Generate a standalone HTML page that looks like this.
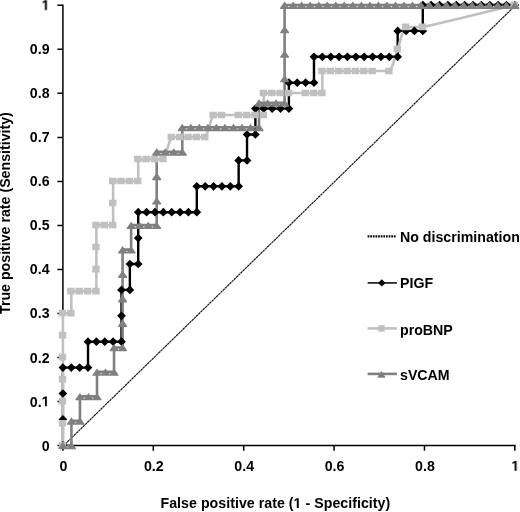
<!DOCTYPE html><html><head><meta charset="utf-8"><title>ROC</title><style>
html,body{margin:0;padding:0;background:#fff;}
body{width:520px;height:512px;position:relative;overflow:hidden;font-family:"Liberation Sans",sans-serif;font-weight:bold;font-size:14.2px;color:#000;}
.t{will-change:transform;position:absolute;white-space:nowrap;line-height:1;}
.yl{text-align:right;width:40px;}
.xl{text-align:center;width:40px;}
.one{width:0.5562em;height:0.6880em;vertical-align:baseline;display:inline-block;overflow:visible}
</style></head><body>
<svg width="520" height="512" viewBox="0 0 520 512" style="position:absolute;left:0;top:0">
<path d="M62.9 4.55V445.6M62.15 445.6H515.6" stroke="#000" stroke-width="1.5" fill="none"/>
<path d="M57.4 445.60H62.9M57.4 401.57H62.9M57.4 357.54H62.9M57.4 313.51H62.9M57.4 269.48H62.9M57.4 225.45H62.9M57.4 181.42H62.9M57.4 137.39H62.9M57.4 93.36H62.9M57.4 49.33H62.9M57.4 5.30H62.9M62.90 445.6V450.8M153.29 445.6V450.8M243.68 445.6V450.8M334.07 445.6V450.8M424.46 445.6V450.8M514.85 445.6V450.8" stroke="#000" stroke-width="1.5" fill="none"/>
<line x1="62.9" y1="446.3" x2="514.85" y2="6.0" stroke="#111" stroke-width="1.15" stroke-dasharray="2.6 0.5"/>
<polyline points="62.90,445.30 62.90,419.40 62.90,393.50 62.90,367.60 71.27,367.60 79.64,367.60 88.01,367.60 88.01,341.70 96.38,341.70 104.75,341.70 113.12,341.70 121.49,341.70 121.49,315.80 121.49,289.90 129.86,289.90 129.86,264.00 138.22,264.00 138.22,238.10 138.22,212.20 146.59,212.20 154.96,212.20 163.33,212.20 171.70,212.20 180.07,212.20 188.44,212.20 196.81,212.20 196.81,186.30 205.18,186.30 213.55,186.30 221.92,186.30 230.29,186.30 238.66,186.30 238.66,160.40 247.03,160.40 247.03,134.50 255.40,134.50 255.40,108.60 263.77,108.60 272.14,108.60 280.51,108.60 288.88,108.60 288.88,82.70 297.24,82.70 305.61,82.70 313.98,82.70 313.98,56.80 322.35,56.80 330.72,56.80 339.09,56.80 347.46,56.80 355.83,56.80 364.20,56.80 372.57,56.80 380.94,56.80 389.31,56.80 397.68,56.80 397.68,30.90 406.05,30.90 414.42,30.90 422.79,30.90 422.79,5.00 431.16,5.00 439.53,5.00 447.89,5.00 456.26,5.00 464.63,5.00 473.00,5.00 481.37,5.00 489.74,5.00 498.11,5.00 506.48,5.00 514.85,5.00" fill="none" stroke="#000" stroke-width="2.4" stroke-linejoin="miter"/>
<path d="M62.90 445.30L62.90 423.29L62.90 401.27L62.90 379.25L62.90 357.24L62.90 335.23L62.90 313.21L71.27 313.21L71.27 291.20L79.64 291.20L88.01 291.20L96.38 291.20L96.38 269.18L96.38 247.16L96.38 225.15L104.75 225.15L113.12 225.15L113.12 203.13L113.12 181.12L121.49 181.12L129.86 181.12L138.22 181.12L138.22 159.11L146.59 159.11L154.96 159.11L163.33 159.11C166.12 155.44 168.91 140.76 171.70 137.09L180.07 137.09L188.44 137.09L196.81 137.09L205.18 137.09C207.97 133.42 210.76 118.74 213.55 115.07L221.92 115.07L238.66 115.07L247.03 115.07L255.40 115.07L263.77 115.07L263.77 93.06L272.14 93.06L280.51 93.06L288.88 93.06L305.61 93.06L313.98 93.06L322.35 93.06L322.35 71.05L330.72 71.05L339.09 71.05L347.46 71.05L355.83 71.05L364.20 71.05L372.57 71.05L389.31 71.05C393.49 67.38 394.89 56.37 397.68 49.03C400.47 41.69 401.86 30.68 406.05 27.02L422.79 27.02C440.92 23.35 499.51 8.67 514.85 5.00" fill="none" stroke="#c0c0c0" stroke-width="2.6" stroke-linejoin="round"/>
<polyline points="62.90,445.30 71.43,445.30 71.43,420.84 79.95,420.84 79.95,396.38 88.48,396.38 97.01,396.38 97.01,371.92 105.54,371.92 114.06,371.92 114.06,347.46 122.59,347.46 122.59,322.99 122.59,298.53 122.59,274.07 122.59,249.61 131.12,249.61 131.12,225.15 139.65,225.15 148.17,225.15 156.70,225.15 156.70,200.69 156.70,176.23 156.70,151.77 165.23,151.77 173.76,151.77 182.28,151.77 182.28,127.31 190.81,127.31 199.34,127.31 207.87,127.31 216.39,127.31 224.92,127.31 233.45,127.31 241.97,127.31 250.50,127.31 259.03,127.31 259.03,102.84 267.56,102.84 276.08,102.84 284.61,102.84 284.61,78.38 284.61,53.92 284.61,29.46 284.61,5.00 293.14,5.00 301.67,5.00 310.19,5.00 318.72,5.00 327.25,5.00 335.78,5.00 344.30,5.00 352.83,5.00 361.36,5.00 369.88,5.00 378.41,5.00 386.94,5.00 395.47,5.00 403.99,5.00 412.52,5.00 421.05,5.00 429.58,5.00 438.10,5.00 446.63,5.00 455.16,5.00 463.69,5.00 472.21,5.00 480.74,5.00 489.27,5.00 497.80,5.00 506.32,5.00 514.85,5.00" fill="none" stroke="#808080" stroke-width="2.6" stroke-linejoin="miter"/>
<path d="M62.90 440.95L67.25 445.30L62.90 449.65L58.55 445.30ZM62.90 415.05L67.25 419.40L62.90 423.75L58.55 419.40ZM62.90 389.15L67.25 393.50L62.90 397.85L58.55 393.50ZM62.90 363.25L67.25 367.60L62.90 371.95L58.55 367.60ZM71.27 363.25L75.62 367.60L71.27 371.95L66.92 367.60ZM79.64 363.25L83.99 367.60L79.64 371.95L75.29 367.60ZM88.01 363.25L92.36 367.60L88.01 371.95L83.66 367.60ZM88.01 337.35L92.36 341.70L88.01 346.05L83.66 341.70ZM96.38 337.35L100.73 341.70L96.38 346.05L92.03 341.70ZM104.75 337.35L109.10 341.70L104.75 346.05L100.40 341.70ZM113.12 337.35L117.47 341.70L113.12 346.05L108.77 341.70ZM121.49 337.35L125.84 341.70L121.49 346.05L117.14 341.70ZM121.49 311.45L125.84 315.80L121.49 320.15L117.14 315.80ZM121.49 285.55L125.84 289.90L121.49 294.25L117.14 289.90ZM129.86 285.55L134.21 289.90L129.86 294.25L125.51 289.90ZM129.86 259.65L134.21 264.00L129.86 268.35L125.51 264.00ZM138.22 259.65L142.57 264.00L138.22 268.35L133.88 264.00ZM138.22 233.75L142.57 238.10L138.22 242.45L133.88 238.10ZM138.22 207.85L142.57 212.20L138.22 216.55L133.88 212.20ZM146.59 207.85L150.94 212.20L146.59 216.55L142.24 212.20ZM154.96 207.85L159.31 212.20L154.96 216.55L150.61 212.20ZM163.33 207.85L167.68 212.20L163.33 216.55L158.98 212.20ZM171.70 207.85L176.05 212.20L171.70 216.55L167.35 212.20ZM180.07 207.85L184.42 212.20L180.07 216.55L175.72 212.20ZM188.44 207.85L192.79 212.20L188.44 216.55L184.09 212.20ZM196.81 207.85L201.16 212.20L196.81 216.55L192.46 212.20ZM196.81 181.95L201.16 186.30L196.81 190.65L192.46 186.30ZM205.18 181.95L209.53 186.30L205.18 190.65L200.83 186.30ZM213.55 181.95L217.90 186.30L213.55 190.65L209.20 186.30ZM221.92 181.95L226.27 186.30L221.92 190.65L217.57 186.30ZM230.29 181.95L234.64 186.30L230.29 190.65L225.94 186.30ZM238.66 181.95L243.01 186.30L238.66 190.65L234.31 186.30ZM238.66 156.05L243.01 160.40L238.66 164.75L234.31 160.40ZM247.03 156.05L251.38 160.40L247.03 164.75L242.68 160.40ZM247.03 130.15L251.38 134.50L247.03 138.85L242.68 134.50ZM255.40 130.15L259.75 134.50L255.40 138.85L251.05 134.50ZM255.40 104.25L259.75 108.60L255.40 112.95L251.05 108.60ZM263.77 104.25L268.12 108.60L263.77 112.95L259.42 108.60ZM272.14 104.25L276.49 108.60L272.14 112.95L267.79 108.60ZM280.51 104.25L284.86 108.60L280.51 112.95L276.16 108.60ZM288.88 104.25L293.23 108.60L288.88 112.95L284.52 108.60ZM288.88 78.35L293.23 82.70L288.88 87.05L284.52 82.70ZM297.24 78.35L301.59 82.70L297.24 87.05L292.89 82.70ZM305.61 78.35L309.96 82.70L305.61 87.05L301.26 82.70ZM313.98 78.35L318.33 82.70L313.98 87.05L309.63 82.70ZM313.98 52.45L318.33 56.80L313.98 61.15L309.63 56.80ZM322.35 52.45L326.70 56.80L322.35 61.15L318.00 56.80ZM330.72 52.45L335.07 56.80L330.72 61.15L326.37 56.80ZM339.09 52.45L343.44 56.80L339.09 61.15L334.74 56.80ZM347.46 52.45L351.81 56.80L347.46 61.15L343.11 56.80ZM355.83 52.45L360.18 56.80L355.83 61.15L351.48 56.80ZM364.20 52.45L368.55 56.80L364.20 61.15L359.85 56.80ZM372.57 52.45L376.92 56.80L372.57 61.15L368.22 56.80ZM380.94 52.45L385.29 56.80L380.94 61.15L376.59 56.80ZM389.31 52.45L393.66 56.80L389.31 61.15L384.96 56.80ZM397.68 52.45L402.03 56.80L397.68 61.15L393.33 56.80ZM397.68 26.55L402.03 30.90L397.68 35.25L393.33 30.90ZM406.05 26.55L410.40 30.90L406.05 35.25L401.70 30.90ZM414.42 26.55L418.77 30.90L414.42 35.25L410.07 30.90ZM422.79 26.55L427.14 30.90L422.79 35.25L418.44 30.90ZM422.79 0.65L427.14 5.00L422.79 9.35L418.44 5.00ZM431.16 0.65L435.51 5.00L431.16 9.35L426.81 5.00ZM439.53 0.65L443.88 5.00L439.53 9.35L435.18 5.00ZM447.89 0.65L452.24 5.00L447.89 9.35L443.54 5.00ZM456.26 0.65L460.61 5.00L456.26 9.35L451.91 5.00ZM464.63 0.65L468.98 5.00L464.63 9.35L460.28 5.00ZM473.00 0.65L477.35 5.00L473.00 9.35L468.65 5.00ZM481.37 0.65L485.72 5.00L481.37 9.35L477.02 5.00ZM489.74 0.65L494.09 5.00L489.74 9.35L485.39 5.00ZM498.11 0.65L502.46 5.00L498.11 9.35L493.76 5.00ZM506.48 0.65L510.83 5.00L506.48 9.35L502.13 5.00ZM514.85 0.65L519.20 5.00L514.85 9.35L510.50 5.00Z" fill="#000"/>
<path d="M58.80 441.90h7.4v6.6h-7.4ZM58.80 419.88h7.4v6.6h-7.4ZM58.80 397.87h7.4v6.6h-7.4ZM58.80 375.85h7.4v6.6h-7.4ZM58.80 353.84h7.4v6.6h-7.4ZM58.80 331.82h7.4v6.6h-7.4ZM58.80 309.81h7.4v6.6h-7.4ZM67.17 309.81h7.4v6.6h-7.4ZM67.17 287.80h7.4v6.6h-7.4ZM75.54 287.80h7.4v6.6h-7.4ZM83.91 287.80h7.4v6.6h-7.4ZM92.28 287.80h7.4v6.6h-7.4ZM92.28 265.78h7.4v6.6h-7.4ZM92.28 243.76h7.4v6.6h-7.4ZM92.28 221.75h7.4v6.6h-7.4ZM100.65 221.75h7.4v6.6h-7.4ZM109.02 221.75h7.4v6.6h-7.4ZM109.02 199.73h7.4v6.6h-7.4ZM109.02 177.72h7.4v6.6h-7.4ZM117.39 177.72h7.4v6.6h-7.4ZM125.76 177.72h7.4v6.6h-7.4ZM134.12 177.72h7.4v6.6h-7.4ZM134.12 155.71h7.4v6.6h-7.4ZM142.49 155.71h7.4v6.6h-7.4ZM150.86 155.71h7.4v6.6h-7.4ZM159.23 155.71h7.4v6.6h-7.4ZM167.60 133.69h7.4v6.6h-7.4ZM175.97 133.69h7.4v6.6h-7.4ZM184.34 133.69h7.4v6.6h-7.4ZM192.71 133.69h7.4v6.6h-7.4ZM201.08 133.69h7.4v6.6h-7.4ZM209.45 111.67h7.4v6.6h-7.4ZM217.82 111.67h7.4v6.6h-7.4ZM234.56 111.67h7.4v6.6h-7.4ZM242.93 111.67h7.4v6.6h-7.4ZM251.30 111.67h7.4v6.6h-7.4ZM259.67 111.67h7.4v6.6h-7.4ZM259.67 89.66h7.4v6.6h-7.4ZM268.04 89.66h7.4v6.6h-7.4ZM276.41 89.66h7.4v6.6h-7.4ZM284.78 89.66h7.4v6.6h-7.4ZM301.51 89.66h7.4v6.6h-7.4ZM309.88 89.66h7.4v6.6h-7.4ZM318.25 89.66h7.4v6.6h-7.4ZM318.25 67.65h7.4v6.6h-7.4ZM326.62 67.65h7.4v6.6h-7.4ZM334.99 67.65h7.4v6.6h-7.4ZM343.36 67.65h7.4v6.6h-7.4ZM351.73 67.65h7.4v6.6h-7.4ZM360.10 67.65h7.4v6.6h-7.4ZM368.47 67.65h7.4v6.6h-7.4ZM385.21 67.65h7.4v6.6h-7.4ZM393.58 45.63h7.4v6.6h-7.4ZM401.95 23.62h7.4v6.6h-7.4ZM418.69 23.62h7.4v6.6h-7.4ZM510.75 1.60h7.4v6.6h-7.4Z" fill="#c0c0c0"/>
<path d="M62.90 441.80L67.35 448.10v1.1h-8.9v-1.1ZM71.43 441.80L75.88 448.10v1.1h-8.9v-1.1ZM71.43 417.34L75.88 423.64v1.1h-8.9v-1.1ZM79.95 417.34L84.40 423.64v1.1h-8.9v-1.1ZM79.95 392.88L84.40 399.18v1.1h-8.9v-1.1ZM88.48 392.88L92.93 399.18v1.1h-8.9v-1.1ZM97.01 392.88L101.46 399.18v1.1h-8.9v-1.1ZM97.01 368.42L101.46 374.72v1.1h-8.9v-1.1ZM105.54 368.42L109.99 374.72v1.1h-8.9v-1.1ZM114.06 368.42L118.51 374.72v1.1h-8.9v-1.1ZM114.06 343.96L118.51 350.26v1.1h-8.9v-1.1ZM122.59 343.96L127.04 350.26v1.1h-8.9v-1.1ZM122.59 319.49L127.04 325.79v1.1h-8.9v-1.1ZM122.59 295.03L127.04 301.33v1.1h-8.9v-1.1ZM122.59 270.57L127.04 276.87v1.1h-8.9v-1.1ZM122.59 246.11L127.04 252.41v1.1h-8.9v-1.1ZM131.12 246.11L135.57 252.41v1.1h-8.9v-1.1ZM131.12 221.65L135.57 227.95v1.1h-8.9v-1.1ZM139.65 221.65L144.10 227.95v1.1h-8.9v-1.1ZM148.17 221.65L152.62 227.95v1.1h-8.9v-1.1ZM156.70 221.65L161.15 227.95v1.1h-8.9v-1.1ZM156.70 197.19L161.15 203.49v1.1h-8.9v-1.1ZM156.70 172.73L161.15 179.03v1.1h-8.9v-1.1ZM156.70 148.27L161.15 154.57v1.1h-8.9v-1.1ZM165.23 148.27L169.68 154.57v1.1h-8.9v-1.1ZM173.76 148.27L178.21 154.57v1.1h-8.9v-1.1ZM182.28 148.27L186.73 154.57v1.1h-8.9v-1.1ZM182.28 123.81L186.73 130.11v1.1h-8.9v-1.1ZM190.81 123.81L195.26 130.11v1.1h-8.9v-1.1ZM199.34 123.81L203.79 130.11v1.1h-8.9v-1.1ZM207.87 123.81L212.32 130.11v1.1h-8.9v-1.1ZM216.39 123.81L220.84 130.11v1.1h-8.9v-1.1ZM224.92 123.81L229.37 130.11v1.1h-8.9v-1.1ZM233.45 123.81L237.90 130.11v1.1h-8.9v-1.1ZM241.97 123.81L246.42 130.11v1.1h-8.9v-1.1ZM250.50 123.81L254.95 130.11v1.1h-8.9v-1.1ZM259.03 123.81L263.48 130.11v1.1h-8.9v-1.1ZM259.03 99.34L263.48 105.64v1.1h-8.9v-1.1ZM267.56 99.34L272.01 105.64v1.1h-8.9v-1.1ZM276.08 99.34L280.53 105.64v1.1h-8.9v-1.1ZM284.61 99.34L289.06 105.64v1.1h-8.9v-1.1ZM284.61 74.88L289.06 81.18v1.1h-8.9v-1.1ZM284.61 50.42L289.06 56.72v1.1h-8.9v-1.1ZM284.61 25.96L289.06 32.26v1.1h-8.9v-1.1ZM284.61 1.50L289.06 7.80v1.1h-8.9v-1.1ZM293.14 1.50L297.59 7.80v1.1h-8.9v-1.1ZM301.67 1.50L306.12 7.80v1.1h-8.9v-1.1ZM310.19 1.50L314.64 7.80v1.1h-8.9v-1.1ZM318.72 1.50L323.17 7.80v1.1h-8.9v-1.1ZM327.25 1.50L331.70 7.80v1.1h-8.9v-1.1ZM335.78 1.50L340.23 7.80v1.1h-8.9v-1.1ZM344.30 1.50L348.75 7.80v1.1h-8.9v-1.1ZM352.83 1.50L357.28 7.80v1.1h-8.9v-1.1ZM361.36 1.50L365.81 7.80v1.1h-8.9v-1.1ZM369.88 1.50L374.33 7.80v1.1h-8.9v-1.1ZM378.41 1.50L382.86 7.80v1.1h-8.9v-1.1ZM386.94 1.50L391.39 7.80v1.1h-8.9v-1.1ZM395.47 1.50L399.92 7.80v1.1h-8.9v-1.1ZM403.99 1.50L408.44 7.80v1.1h-8.9v-1.1ZM412.52 1.50L416.97 7.80v1.1h-8.9v-1.1ZM421.05 1.50L425.50 7.80v1.1h-8.9v-1.1ZM429.58 1.50L434.03 7.80v1.1h-8.9v-1.1ZM438.10 1.50L442.55 7.80v1.1h-8.9v-1.1ZM446.63 1.50L451.08 7.80v1.1h-8.9v-1.1ZM455.16 1.50L459.61 7.80v1.1h-8.9v-1.1ZM463.69 1.50L468.14 7.80v1.1h-8.9v-1.1ZM472.21 1.50L476.66 7.80v1.1h-8.9v-1.1ZM480.74 1.50L485.19 7.80v1.1h-8.9v-1.1ZM489.27 1.50L493.72 7.80v1.1h-8.9v-1.1ZM497.80 1.50L502.25 7.80v1.1h-8.9v-1.1ZM506.32 1.50L510.77 7.80v1.1h-8.9v-1.1ZM514.85 1.50L519.30 7.80v1.1h-8.9v-1.1Z" fill="#808080"/>
<line x1="367.6" y1="236.4" x2="396.4" y2="236.4" stroke="#000" stroke-width="2.4" stroke-dasharray="1.7 0.93"/>
<line x1="367.6" y1="282.9" x2="396.9" y2="282.9" stroke="#000" stroke-width="1.5"/>
<path d="M381.80 279.20L385.50 282.90L381.80 286.60L378.10 282.90Z" fill="#000"/>
<line x1="367.6" y1="328.4" x2="396.9" y2="328.4" stroke="#c0c0c0" stroke-width="2.6"/>
<path d="M378.30 325.25h6.4v6.4h-6.4Z" fill="#c0c0c0"/>
<line x1="367.6" y1="373.9" x2="396.9" y2="373.9" stroke="#808080" stroke-width="2.6"/>
<path d="M381.40 371.00L385.10 376.70v1.1h-7.4v-1.1Z" fill="#808080"/>
</svg>
<div class="t yl" style="left:9px;top:438px;transform:translate(0.60px,0.56px)">0</div>
<div class="t yl" style="left:9px;top:394px;transform:translate(0.60px,0.53px)">0.<svg class="one" viewBox="0 -1409 1139 1409"><path d="M478 0V-1170L140 -959V-1180L493 -1409H759V0Z" fill="#000"/></svg></div>
<div class="t yl" style="left:9px;top:350px;transform:translate(0.60px,0.50px)">0.2</div>
<div class="t yl" style="left:9px;top:306px;transform:translate(0.60px,0.47px)">0.3</div>
<div class="t yl" style="left:9px;top:262px;transform:translate(0.60px,0.44px)">0.4</div>
<div class="t yl" style="left:9px;top:218px;transform:translate(0.60px,0.41px)">0.5</div>
<div class="t yl" style="left:9px;top:174px;transform:translate(0.60px,0.38px)">0.6</div>
<div class="t yl" style="left:9px;top:130px;transform:translate(0.60px,0.35px)">0.7</div>
<div class="t yl" style="left:9px;top:86px;transform:translate(0.60px,0.32px)">0.8</div>
<div class="t yl" style="left:9px;top:42px;transform:translate(0.60px,0.29px)">0.9</div>
<div class="t yl" style="left:9px;top:-2px;transform:translate(0.60px,0.26px)"><svg class="one" viewBox="0 -1409 1139 1409"><path d="M478 0V-1170L140 -959V-1180L493 -1409H759V0Z" fill="#000"/></svg></div>
<div class="t xl" style="left:43px;top:458px;transform:translate(0.40px,0.98px)">0</div>
<div class="t xl" style="left:133px;top:458px;transform:translate(0.79px,0.98px)">0.2</div>
<div class="t xl" style="left:224px;top:458px;transform:translate(0.18px,0.98px)">0.4</div>
<div class="t xl" style="left:314px;top:458px;transform:translate(0.57px,0.98px)">0.6</div>
<div class="t xl" style="left:404px;top:458px;transform:translate(0.96px,0.98px)">0.8</div>
<div class="t xl" style="left:495px;top:458px;transform:translate(0.35px,0.98px)"><svg class="one" viewBox="0 -1409 1139 1409"><path d="M478 0V-1170L140 -959V-1180L493 -1409H759V0Z" fill="#000"/></svg></div>
<div class="t " style="left:160px;top:496px;transform:translate(0.50px,0.28px);letter-spacing:0.03px">False positive rate (<svg class="one" viewBox="0 -1409 1139 1409"><path d="M478 0V-1170L140 -959V-1180L493 -1409H759V0Z" fill="#000"/></svg> - Specificity)</div>
<div class="t" style="left:10.3px;top:313.5px;transform-origin:0 0;transform:rotate(-90deg) translateY(-12.02px)">True positive rate (Sensitivity)</div>
<div class="t " style="left:400px;top:230px;transform:translate(0.00px,0.48px)">No discrimination</div>
<div class="t " style="left:400px;top:276px;transform:translate(0.00px,0.48px)">PIGF</div>
<div class="t " style="left:400px;top:322px;transform:translate(0.00px,0.78px)">proBNP</div>
<div class="t " style="left:400px;top:368px;transform:translate(0.00px,0.18px)">sVCAM</div>
</body></html>
